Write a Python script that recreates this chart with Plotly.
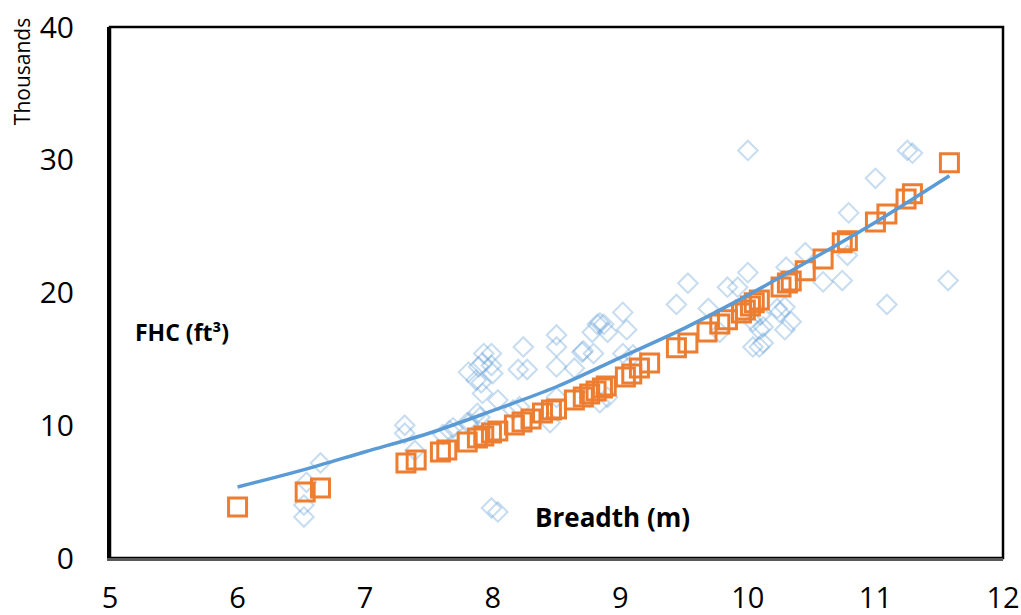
import plotly.graph_objects as go

# Observed (blue diamonds)
obs_x = [6.52, 6.52, 6.54, 6.65, 7.31, 7.31, 7.39, 7.61, 7.66, 7.80, 7.88, 7.99, 8.04,
         7.81, 7.89, 7.93, 7.99, 7.92, 7.99, 8.00, 7.87, 7.91, 7.92, 8.04, 8.20, 8.27, 8.24,
         7.90, 7.82, 7.69, 8.21, 8.45, 8.16, 8.50, 8.50, 8.50, 8.50, 8.64, 8.70, 8.79, 8.82,
         8.90, 9.05, 8.78, 8.87, 8.84, 8.90, 8.76, 9.02, 8.84, 8.71, 9.02, 9.10, 9.44, 9.53,
         9.69, 9.78, 9.84, 9.92, 10.00, 10.04, 10.09, 10.10, 10.04, 10.09, 10.23, 10.00, 10.12,
         10.12, 10.25, 10.29, 10.34, 10.29, 10.30, 10.45, 10.59, 10.74, 10.78, 10.79, 11.00,
         11.09, 11.25, 11.29, 11.57]
obs_y = [3.09, 3.99, 5.7, 7.16, 10.0, 9.4, 8.1, 9.3, 9.6, 10.2, 10.9, 3.77, 3.47,
         14.0, 14.4, 15.4, 15.4, 14.7, 14.5, 13.9, 13.4, 13.2, 12.4, 11.9, 14.2, 14.2, 15.9,
         10.6, 10.2, 9.8, 11.4, 10.2, 11.15, 16.8, 15.9, 14.4, 12.1, 14.3, 15.5, 15.4, 17.6,
         17.0, 17.2, 17.0, 17.6, 11.7, 12.1, 12.1, 18.5, 17.7, 15.6, 15.4, 15.3, 19.1, 20.7,
         18.8, 17.0, 20.4, 20.4, 21.5, 17.8, 17.2, 18.3, 15.9, 15.9, 18.8, 30.7, 17.4,
         16.2, 18.5, 18.9, 17.8, 17.2, 21.9, 23.0, 20.8, 20.9, 22.8, 26.0, 28.6,
         19.1, 30.7, 30.5, 20.9]

# Predicted (orange squares)
pred_x = [6.00, 6.53, 6.65, 7.32, 7.40, 7.59, 7.64, 7.80, 7.88, 7.93, 7.99, 8.04, 8.17, 8.23,
          8.30, 8.39, 8.46, 8.50, 8.64, 8.71, 8.76, 8.81, 8.86, 8.89, 9.04, 9.09, 9.15, 9.23,
          9.44, 9.53, 9.68, 9.78, 9.84, 9.95, 9.98, 10.02, 10.05, 10.09, 10.26, 10.31, 10.34,
          10.45, 10.59, 10.74, 10.78, 11.00, 11.09, 11.24, 11.29, 11.58]
pred_y = [3.84, 4.97, 5.28, 7.16, 7.39, 7.99, 8.14, 8.74, 9.04, 9.19, 9.42, 9.57, 10.02, 10.25,
          10.47, 10.93, 11.15, 11.23, 11.91, 12.13, 12.36, 12.58, 12.81, 12.96, 13.64, 13.87,
          14.32, 14.69, 15.83, 16.20, 17.03, 17.63, 17.94, 18.46, 18.69, 18.99, 19.22, 19.44,
          20.42, 20.72, 20.87, 21.63, 22.53, 23.74, 23.89, 25.32, 25.92, 27.05, 27.43, 29.77]

# Trend line
trend_x = [6.0, 6.5, 7.0, 7.5, 8.0, 8.5, 9.0, 9.5, 10.0, 10.5, 11.0, 11.58]
trend_y = [5.35, 6.6, 8.0, 9.4, 11.1, 12.9, 15.1, 17.3, 19.8, 22.5, 25.3, 28.8]

x_ticks = [5, 6, 7, 8, 9, 10, 11, 12]
y_ticks = [0, 10, 20, 30, 40]

FONT = "Open Sans"
BLUE = "#5b9bd5"
ORANGE = "#ed7d31"

fig = go.Figure()
fig.add_trace(go.Scatter(
    x=obs_x, y=obs_y, mode="markers",
    marker=dict(symbol="diamond-open", size=15, color="rgba(91,155,213,0.35)",
                line=dict(width=2, color="rgba(91,155,213,0.35)")),
    showlegend=False))
fig.add_trace(go.Scatter(
    x=pred_x, y=pred_y, mode="markers",
    marker=dict(symbol="square-open", size=18, color=ORANGE,
                line=dict(width=3, color=ORANGE)),
    showlegend=False))
fig.add_trace(go.Scatter(
    x=trend_x, y=trend_y, mode="lines",
    line=dict(color=BLUE, width=3.5, shape="spline"),
    showlegend=False))

fig.update_layout(
    width=1021, height=615,
    margin=dict(l=110, r=18, t=27, b=57),
    paper_bgcolor="white", plot_bgcolor="white",
    font=dict(family=FONT, color="black"),
    xaxis=dict(range=[5, 12], tickvals=x_ticks, showgrid=False, zeroline=False,
               showline=True, linecolor="#595959", linewidth=3, automargin=False,
               ticks="", tickfont=dict(size=29, family=FONT), ticklabelstandoff=12),
    yaxis=dict(range=[0, 40], tickvals=y_ticks, showgrid=False, zeroline=False,
               showline=True, linecolor="black", linewidth=3, automargin=False,
               ticks="", tickfont=dict(size=30, family=FONT), ticklabelstandoff=27),
    shapes=[dict(type="rect", xref="paper", yref="paper", x0=0, x1=1, y0=0, y1=1,
                 line=dict(color="black", width=2.5), layer="below")],
    annotations=[
        dict(text="Thousands", xref="paper", yref="paper", x=-0.0985, y=0.915,
             xanchor="center", yanchor="middle", textangle=-90, showarrow=False,
             font=dict(size=21, family=FONT)),
        dict(text="<b>FHC (ft³)</b>", xref="x", yref="y", x=5.18, y=17.0,
             xanchor="left", yanchor="middle", showarrow=False,
             font=dict(size=23, family=FONT)),
        dict(text="<b>Breadth (m)</b>", xref="x", yref="y", x=8.94, y=3.1,
             xanchor="center", yanchor="middle", showarrow=False,
             font=dict(size=26, family=FONT)),
    ],
)

fig.write_html("out.html")
